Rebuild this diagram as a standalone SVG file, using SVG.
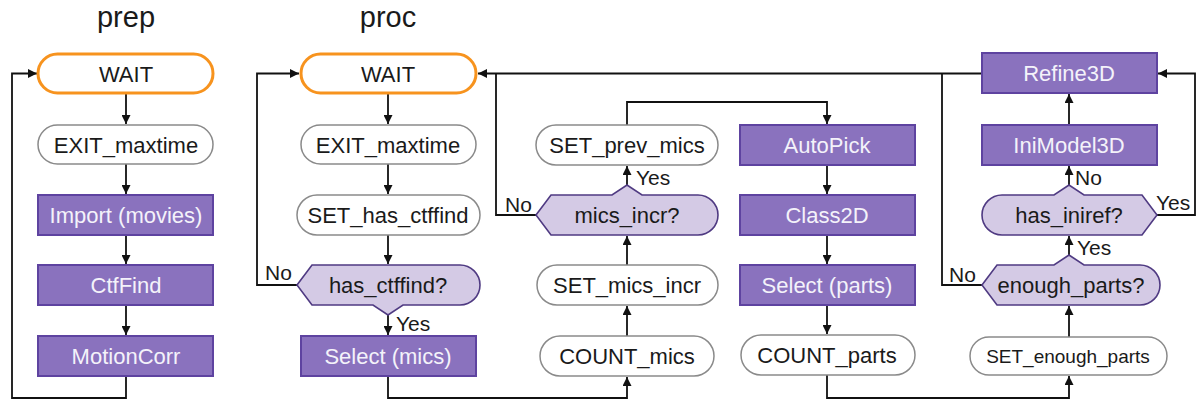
<svg xmlns="http://www.w3.org/2000/svg" width="1199" height="400" viewBox="0 0 1199 400">
<style>
text{font-family:"Liberation Sans",Arial,sans-serif;font-size:22px;text-anchor:middle;fill:#1a1a1a}
.title{font-size:29px}
.lbl{font-size:21px;text-anchor:start}
.wait{fill:#fff;stroke:#f7931e;stroke-width:3}
.step{fill:#fff;stroke:#8a8a8a;stroke-width:1.5}
.job{fill:#8a72be;stroke:#5e43a0;stroke-width:2}
.job+text,.jt{fill:#f4f2fa}
.dec{fill:#d4cae5;stroke:#4f3a82;stroke-width:1.6}
.sm{font-size:19px}
#connectors path{fill:none;stroke:#111;stroke-width:1.8}
</style>
<defs>
<marker id="ah" viewBox="0 0 10 10" refX="10" refY="5" markerWidth="9" markerHeight="9" markerUnits="userSpaceOnUse" orient="auto">
<path d="M0,0 L10,5 L0,10 Z" fill="#111"/>
</marker>
</defs>
<rect width="1199" height="400" fill="#fff"/>
<text class="title" x="126" y="27">prep</text>
<text class="title" x="388" y="27">proc</text>

<g id="connectors">
<!-- prep -->
<path d="M126,93 V124" marker-end="url(#ah)"/>
<path d="M126,164 V194" marker-end="url(#ah)"/>
<path d="M126,235 V264" marker-end="url(#ah)"/>
<path d="M126,305 V335" marker-end="url(#ah)"/>
<path d="M126,376 V398 H12 V73.5 H37" marker-end="url(#ah)"/>
<!-- proc -->
<path d="M388,93 V124" marker-end="url(#ah)"/>
<path d="M388,164 V194" marker-end="url(#ah)"/>
<path d="M388,235 V264" marker-end="url(#ah)"/>
<path d="M388,315 V335" marker-end="url(#ah)"/>
<path d="M297,285 H257 V73.5 H299" marker-end="url(#ah)"/>
<path d="M388,376 V398 H627 V377" marker-end="url(#ah)"/>
<path d="M627,336 V306" marker-end="url(#ah)"/>
<path d="M627,265 V236" marker-end="url(#ah)"/>
<path d="M627,185 V166" marker-end="url(#ah)"/>
<path d="M627,125 V102 H827 V124" marker-end="url(#ah)"/>
<path d="M536,215 H496 V73.5"/>
<path d="M827,165 V194" marker-end="url(#ah)"/>
<path d="M827,235 V264" marker-end="url(#ah)"/>
<path d="M827,305 V334" marker-end="url(#ah)"/>
<path d="M827,375 V398 H1069 V376" marker-end="url(#ah)"/>
<path d="M1069,337 V306" marker-end="url(#ah)"/>
<path d="M1069,255 V236" marker-end="url(#ah)"/>
<path d="M1069,185 V166" marker-end="url(#ah)"/>
<path d="M1069,125 V94" marker-end="url(#ah)"/>
<path d="M1157,215 H1195 V73.5 H1158" marker-end="url(#ah)"/>
<path d="M982,73.5 H478" marker-end="url(#ah)"/>
<path d="M982,285 H942 V73.5"/>
</g>
<g id="labels">
<text class="lbl" x="265" y="280">No</text>
<text class="lbl" x="396" y="331">Yes</text>
<text class="lbl" x="505" y="212">No</text>
<text class="lbl" x="636" y="185">Yes</text>
<text class="lbl" x="949" y="282">No</text>
<text class="lbl" x="1077" y="255">Yes</text>
<text class="lbl" x="1075" y="185">No</text>
<text class="lbl" x="1156" y="210">Yes</text>
</g>

<!-- prep nodes -->
<g id="prep_wait"><rect class="wait" x="38" y="54" width="175" height="39" rx="19.5"/><text x="126" y="81.5">WAIT</text></g>
<g id="prep_exit"><rect class="step" x="38" y="125" width="175" height="39" rx="19.5"/><text x="126" y="152.5">EXIT_maxtime</text></g>
<g id="prep_import"><rect class="job" x="38" y="195" width="175" height="40"/><text class="jt" x="126" y="223">Import (movies)</text></g>
<g id="prep_ctffind"><rect class="job" x="38" y="265" width="175" height="40"/><text class="jt" x="126" y="293">CtfFind</text></g>
<g id="prep_motioncorr"><rect class="job" x="38" y="336" width="175" height="40"/><text class="jt" x="126" y="364">MotionCorr</text></g>

<!-- proc nodes -->
<g id="proc_wait"><rect class="wait" x="301" y="54" width="175" height="39" rx="19.5"/><text x="388" y="81.5">WAIT</text></g>
<g id="proc_exit"><rect class="step" x="301" y="125" width="175" height="39" rx="19.5"/><text x="388" y="152.5">EXIT_maxtime</text></g>
<g id="set_has_ctffind"><rect class="step" x="297" y="195" width="183" height="40" rx="20"/><text x="388" y="223">SET_has_ctffind</text></g>
<g id="has_ctffind"><path class="dec" d="M297,285 L312,265 L460,265 A20,20 0 0 1 460,305 L403,305 L388,315 L373,305 L312,305 Z"/><text x="388" y="293">has_ctffind?</text></g>
<g id="select_mics"><rect class="job" x="301" y="336" width="175" height="40"/><text class="jt" x="388" y="364">Select (mics)</text></g>

<g id="set_prev_mics"><rect class="step" x="536" y="125" width="182" height="40" rx="20"/><text x="627" y="153">SET_prev_mics</text></g>
<g id="mics_incr"><path class="dec" d="M536,215 L551,195 L612,195 L627,185 L642,195 L698,195 A20,20 0 0 1 698,235 L551,235 Z"/><text x="627" y="223">mics_incr?</text></g>
<g id="set_mics_incr"><rect class="step" x="537" y="265" width="181" height="40" rx="20"/><text x="627" y="293">SET_mics_incr</text></g>
<g id="count_mics"><rect class="step" x="540" y="336" width="174" height="40" rx="20"/><text x="627" y="364">COUNT_mics</text></g>

<g id="autopick"><rect class="job" x="740" y="125" width="175" height="40"/><text class="jt" x="827" y="153">AutoPick</text></g>
<g id="class2d"><rect class="job" x="740" y="195" width="175" height="40"/><text class="jt" x="827" y="223">Class2D</text></g>
<g id="select_parts"><rect class="job" x="740" y="265" width="175" height="40"/><text class="jt" x="827" y="293">Select (parts)</text></g>
<g id="count_parts"><rect class="step" x="741" y="335" width="174" height="40" rx="20"/><text x="827" y="363">COUNT_parts</text></g>

<g id="refine3d"><rect class="job" x="982" y="53" width="175" height="40"/><text class="jt" x="1069" y="81">Refine3D</text></g>
<g id="inimodel3d"><rect class="job" x="982" y="125" width="175" height="40"/><text class="jt" x="1069" y="153">IniModel3D</text></g>
<g id="has_iniref"><path class="dec" d="M1002,195 L1054,195 L1069,185 L1084,195 L1142,195 L1157,215 L1142,235 L1002,235 A20,20 0 0 1 1002,195 Z"/><text x="1069" y="223">has_iniref?</text></g>
<g id="enough_parts"><path class="dec" d="M982,285 L997,265 L1054,265 L1069,255 L1084,265 L1140,265 A20,20 0 0 1 1140,305 L997,305 Z"/><text x="1071" y="293">enough_parts?</text></g>
<g id="set_enough_parts"><rect class="step" x="970" y="337" width="197" height="38" rx="19"/><text class="sm" x="1068" y="362.5">SET_enough_parts</text></g>
</svg>
